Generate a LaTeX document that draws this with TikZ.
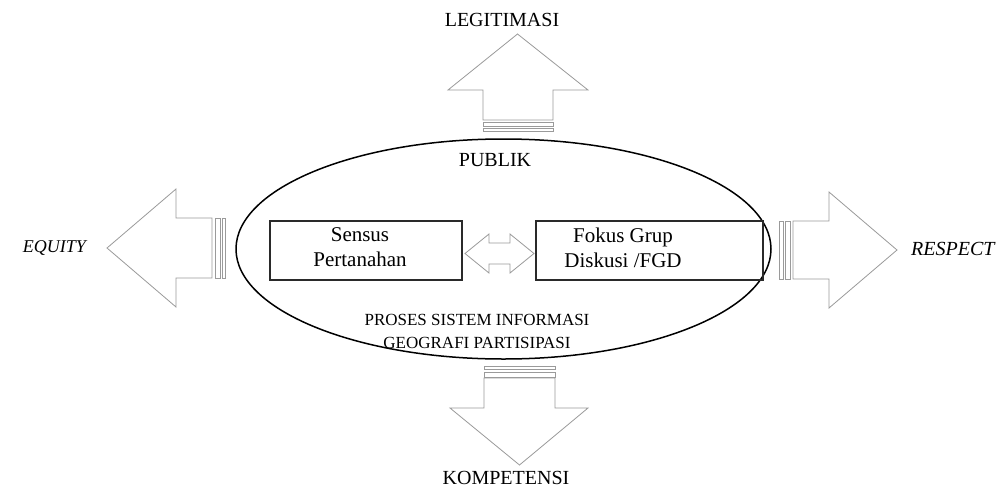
\documentclass[tikz,border=0pt]{standalone}
\usepackage{fontspec}
\setmainfont{Liberation Serif}
\usetikzlibrary{shapes.geometric}
\definecolor{arrowgray}{HTML}{9A9A9A}
\definecolor{boxline}{HTML}{2A2A2A}
\tikzset{
  blockarrow/.style={draw=arrowgray, line width=0.8pt, line join=miter, fill=white},
  stripe/.style={draw=arrowgray, line width=0.8pt, fill=white},
  infobox/.style={draw=boxline, line width=1.3pt, minimum width=192, minimum height=59, inner sep=0pt},
  boxtext/.style={align=center, inner sep=0pt, font=\fontsize{21}{25}\selectfont},
  outerlabel/.style={font=\fontsize{20}{24}\selectfont, inner sep=0pt},
  innerlabel/.style={font=\fontsize{17}{23}\selectfont, align=center, inner sep=0pt}
}
\begin{document}
\begin{tikzpicture}[x=1pt, y=-1pt]
\useasboundingbox (0,0) rectangle (1002,493);
% central ellipse
\node[draw=black, line width=1.5pt, ellipse, minimum width=535, minimum height=220, inner sep=0pt] (publik) at (503.5,249) {};
% up arrow
\draw[blockarrow] (483,120) -- (483,90) -- (448,90) -- (517.5,34) -- (588,90) -- (553,90) -- (553,120) -- cycle;
\draw[stripe] (483,122) rectangle (553,126.5);
\draw[stripe] (483,128.5) rectangle (553,131.5);
% down arrow
\draw[blockarrow] (484,378) -- (484,408) -- (450,408) -- (519.5,465) -- (588,408) -- (555,408) -- (555,378) -- cycle;
\draw[stripe] (484,372) rectangle (555,377);
\draw[stripe] (484,366.5) rectangle (555,369.5);
% left arrow
\draw[blockarrow] (212,218) -- (176,218) -- (176,189) -- (107,248) -- (176,307) -- (176,278) -- (212,278) -- cycle;
\draw[stripe] (215,218) rectangle (220,278);
\draw[stripe] (222,218) rectangle (225,278);
% right arrow
\draw[blockarrow] (793,221) -- (829,221) -- (829,192) -- (897,250) -- (829,308) -- (829,279) -- (793,279) -- cycle;
\draw[stripe] (785,221) rectangle (790,279);
\draw[stripe] (779,221) rectangle (783,279);
% boxes
\node[infobox] (sensus) at (366,250.5) {};
\node[infobox, minimum width=227] (fgd) at (649.5,250.5) {};
\node[boxtext] (sensustext) at (360,247.5) {Sensus\\Pertanahan};
\node[boxtext] (fgdtext) at (623,247.5) {Fokus Grup\\Diskusi /FGD};
% double arrow between boxes
\draw[blockarrow] (465,253.5) -- (489,234) -- (489,243) -- (510,243) -- (510,234) -- (534,253.5) -- (510,273) -- (510,264) -- (489,264) -- (489,273) -- cycle;
% labels
\node[outerlabel] (legit) at (502,20) {LEGITIMASI};
\node[outerlabel] (kompet) at (506,478) {KOMPETENSI};
\node[outerlabel, anchor=east, font=\fontsize{18}{22}\selectfont] (equity) at (86,248) {\itshape EQUITY};
\node[outerlabel, anchor=west] (respect) at (911,249) {\itshape RESPECT};
\node[outerlabel] (publiklabel) at (495,160) {PUBLIK};
\node[innerlabel] (proses) at (477,331.5) {PROSES SISTEM INFORMASI\\GEOGRAFI PARTISIPASI};
\end{tikzpicture}
\end{document}
